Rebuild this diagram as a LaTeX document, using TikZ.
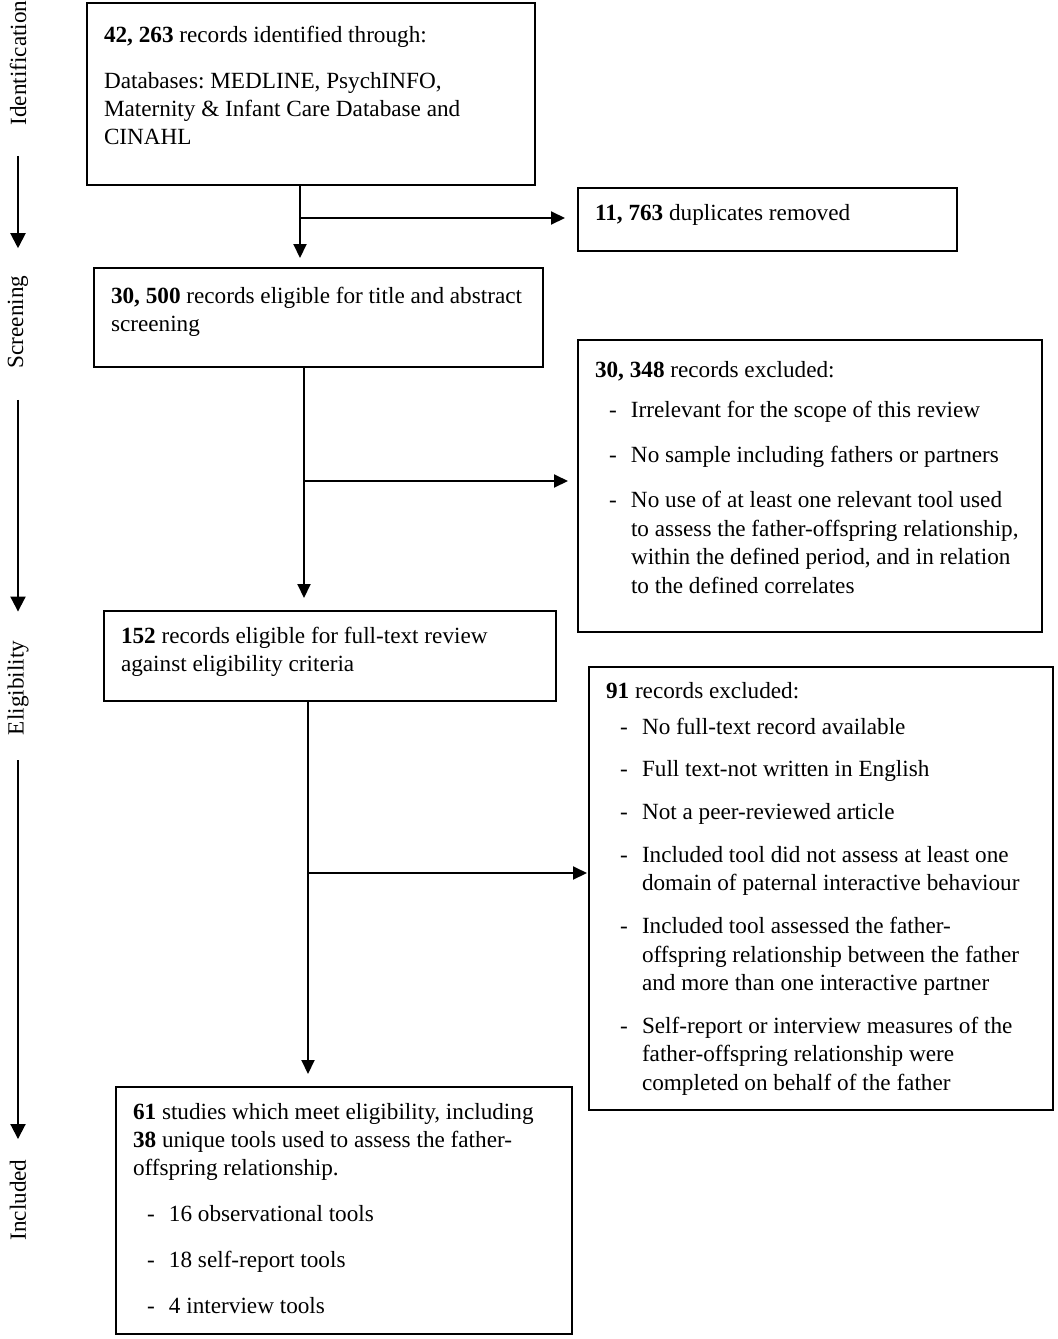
\documentclass[tikz,border=0pt]{standalone}
\usepackage{fontspec}
\setmainfont{Liberation Serif}
\usetikzlibrary{positioning,arrows.meta}
\frenchspacing

% box text: width, height, first baseline, contents
\newcommand{\boxtext}[4]{\parbox[t][#2][t]{#1}{\raggedright\rule{0pt}{#3}#4}}
\newcommand{\dashitem}[2][8.5pt]{\par\vspace{#1}\hangindent=18pt\hangafter=1\noindent\makebox[18pt][l]{\hspace{7pt}-}\begingroup\let\\\newline#2\endgroup}

\begin{document}
\begin{tikzpicture}[
    x=0.5pt, y=-0.5pt,
    font=\fontsize{11.6}{14.2}\selectfont,
    stage/.style={draw, line width=1.4pt, anchor=north west, inner xsep=8.5pt, inner ysep=0pt, outer sep=0pt},
    phase/.style={rotate=90, inner sep=0pt},
    flow/.style={-{Triangle[length=7pt,width=6.5pt]}, line width=1pt},
    phaseflow/.style={-{Triangle[length=7.5pt,width=7.5pt]}, line width=1pt}
  ]

    \useasboundingbox (0,0) rectangle (1058,1339);

    % phases on the left
    \node[phase] (idlab) at (18,63) {Identification};
    \node[phase] (scrlab) at (18,322) {Screening};
    \node[phase] (eliglab) at (18,688) {Eligibility};
    \node[phase] (incllab) at (18,1200) {Included};

    \draw[phaseflow, shorten <=15pt, shorten >=13.5pt] (idlab.west) -- (scrlab.east);
    \draw[phaseflow, shorten <=15.5pt, shorten >=14.5pt] (scrlab.west) -- (eliglab.east);
    \draw[phaseflow, shorten <=12.5pt, shorten >=10pt] (eliglab.west) -- (incllab.east);

    % main flow
    \node[stage] (ident) at (87,3) {\boxtext{207pt}{91pt}{19.5pt}{%
      \textbf{42, 263} records identified through:\endgraf\vspace{8.8pt}%
      Databases: MEDLINE, PsychINFO,\\
      Maternity \& Infant Care Database and\\
      CINAHL}};

    \node[stage] (dup) at (578,188) {\boxtext{172.5pt}{31.5pt}{16pt}{%
      \textbf{11, 763} duplicates removed}};

    \node[stage] (screen) at (94,268) {\boxtext{207.5pt}{49.5pt}{17.5pt}{%
      \textbf{30, 500} records eligible for title and abstract\\
      screening}};

    \node[stage] (excl1) at (578,340) {\boxtext{215pt}{146pt}{18.5pt}{%
      \textbf{30, 348} records excluded:
      \dashitem[5.8pt]{Irrelevant for the scope of this review}
      \dashitem{No sample including fathers or partners}
      \dashitem{No use of at least one relevant tool used\\
        to assess the father-offspring relationship,\\
        within the defined period, and in relation\\
        to the defined correlates}}};

    \node[stage] (full) at (104,611) {\boxtext{209pt}{45pt}{16pt}{%
      \textbf{152} records eligible for full-text review\\
      against eligibility criteria}};

    \node[stage] (excl2) at (589,667) {\boxtext{215pt}{221.5pt}{15.5pt}{%
      \textbf{91} records excluded:
      \dashitem[3.8pt]{No full-text record available}
      \dashitem[7.2pt]{Full text-not written in English}
      \dashitem[7.2pt]{Not a peer-reviewed article}
      \dashitem[7.2pt]{Included tool did not assess at least one\\
        domain of paternal interactive behaviour}
      \dashitem[7.2pt]{Included tool assessed the father-\\
        offspring relationship between the father\\
        and more than one interactive partner}
      \dashitem[7.2pt]{Self-report or interview measures of the\\
        father-offspring relationship were\\
        completed on behalf of the father}}};

    \node[stage] (incl) at (116,1087) {\boxtext{211pt}{123.5pt}{16pt}{%
      \textbf{61} studies which meet eligibility, including\\
      \textbf{38} unique tools used to assess the father-\\
      offspring relationship.
      \dashitem[8.7pt]{16 observational tools}
      \dashitem[8.7pt]{18 self-report tools}
      \dashitem[8.7pt]{4 interview tools}}};

    \coordinate (j1) at (300,218);
    \coordinate (j2) at (304,481);
    \coordinate (j3) at (308,873);

    \draw[flow, shorten >=5pt] (ident.south -| j1) -- (screen.north -| j1);
    \draw[flow, shorten >=6.5pt] (j1) -- (j1 -| dup.west);
    \draw[flow, shorten >=6.5pt] (screen.south -| j2) -- (full.north -| j2);
    \draw[flow, shorten >=5pt] (j2) -- (j2 -| excl1.west);
    \draw[flow, shorten >=6.5pt] (full.south -| j3) -- (incl.north -| j3);
    \draw[flow, shorten >=1pt] (j3) -- (j3 -| excl2.west);
  \end{tikzpicture}
\end{document}
